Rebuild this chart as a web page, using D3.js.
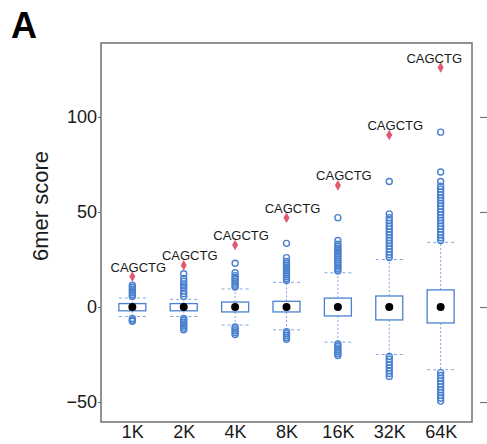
<!DOCTYPE html>
<html>
<head>
<meta charset="utf-8">
<script src="https://cdn.jsdelivr.net/npm/d3@7"></script>
<style>
  body { margin: 0; background: #fff; }
  svg { display: block; font-family: "Liberation Sans", Arial, sans-serif; }
</style>
</head>
<body>
<div id="chart"></div>
<script>
// window sizes
var categories = ["1K", "2K", "4K", "8K", "16K", "32K", "64K"];
var medians = [0, 0, 0, 0, 0, 0, 0];
var lowerQuartile = [-2, -2, -2.6, -2.6, -4.7, -6.8, -8.4];
var upperQuartile = [1.8, 1.8, 2.6, 3, 4.7, 5.8, 9];
var lowerWhisker = [-5, -5, -9.5, -12, -18.5, -25, -33];
var upperWhisker = [4.7, 4, 9.5, 13, 18, 25, 34];

// outlying 6mers per window
var outliers = [
    [5.5, 6.5, 7.5, 8.5, 9.5, 10.5, 11.5, -6, -7, -7.5],
    [5.5, 7, 8.5, 10, 11, 12, 13.5, 15, 17.5, -6, -7, -8, -9, -10, -11, -12],
    [10.5, 11.5, 12.5, 13.5, 14.5, 15.5, 16.5, 18, 23, -10.5, -11.5, -12.5, -13.5, -14.5],
    [14, 15, 16, 17, 18, 19, 20, 21, 22, 23, 24, 26, 33.5, -13, -14, -15, -16, -17],
    [19, 20, 21, 22, 23, 24, 25, 26, 27, 28, 29, 30, 31, 32, 33, 35, 47,
        -19.5, -20.5, -21.5, -22.5, -23.5, -24.5, -25.5],
    [26, 27.5, 29, 30.5, 32, 33.5, 35, 36.5, 38, 39.5, 41, 42.5, 44, 45.5, 47, 49, 66,
        -26, -27.5, -29, -30.5, -32, -33.5, -35, -36.5],
    [35, 36.5, 38, 39.5, 41, 42.5, 44, 45.5, 47, 48.5, 50, 51.5, 53, 54.5, 56, 57.5, 59,
        60.5, 62, 63.5, 66, 71, 92,
        -34.5, -36, -37.5, -39, -40.5, -42, -43.5, -45, -46.5, -48, -49.5]
];

// best scoring 6mer in each window
var topScores = [16, 22, 32.6, 47, 64, 90.5, 126];
var topKmers = ["CAGCTG", "CAGCTG", "CAGCTG", "CAGCTG", "CAGCTG", "CAGCTG", "CAGCTG"];

var yTicks = [-50, 0, 50, 100];

var W = 487, H = 444;
// plot frame (note: "top" is taken by window.top)
var frame = { left: 101, right: 472, top: 43, bottom: 422 };

var x = d3.scalePoint()
    .domain(categories)
    .range([frame.left, frame.right])
    .padding(0.61);

var y = d3.scaleLinear()
    .domain([-60.5, 138.9])
    .range([frame.bottom, frame.top]);

var svg = d3.select("#chart").append("svg")
    .attr("width", W)
    .attr("height", H);

var blue = "#4a80d0";
var lightBlue = "#7fa8e2";

// panel letter
svg.append("text")
    .attr("x", 11)
    .attr("y", 38)
    .style("font-size", "36px")
    .style("font-weight", "bold")
    .text("A");

// y axis label
svg.append("text")
    .attr("transform", "translate(48,206) rotate(-90)")
    .attr("text-anchor", "middle")
    .style("font-size", "22px")
    .attr("fill", "#1a1a1a")
    .text("6mer score");

// left axis
var yAxis = svg.append("g")
    .attr("transform", "translate(" + frame.left + ",0)")
    .call(d3.axisLeft(y).tickValues(yTicks).tickSize(3).tickPadding(1));
yAxis.select(".domain").remove();
yAxis.selectAll("line").attr("stroke", "#666");
yAxis.selectAll("text").style("font-size", "18px").attr("fill", "#1a1a1a").attr("font-family", null);

// right axis: ticks only
var rAxis = svg.append("g")
    .attr("transform", "translate(480,0)")
    .call(d3.axisRight(y).tickValues(yTicks).tickSize(7).tickFormat(""));
rAxis.select(".domain").remove();
rAxis.selectAll("line").attr("stroke", "#777").attr("stroke-width", 1.2);

// bottom labels
var xAxis = svg.append("g")
    .attr("transform", "translate(0," + frame.bottom + ")")
    .call(d3.axisBottom(x).tickSize(0).tickPadding(3));
xAxis.select(".domain").remove();
xAxis.selectAll("text").style("font-size", "18px").attr("fill", "#1a1a1a").attr("font-family", null);

// frame
svg.append("rect")
    .attr("x", frame.left)
    .attr("y", frame.top)
    .attr("width", frame.right - frame.left)
    .attr("height", frame.bottom - frame.top)
    .attr("fill", "none")
    .attr("stroke", "#707070")
    .attr("stroke-width", 1.5);

var boxW = 27;

var groups = svg.selectAll(".box")
    .data(categories)
    .enter().append("g")
    .attr("class", "box")
    .attr("transform", function (d) { return "translate(" + x(d) + ",0)"; });

// whiskers
groups.append("line")
    .attr("y1", function (d, i) { return y(upperQuartile[i]); })
    .attr("y2", function (d, i) { return y(upperWhisker[i]); })
    .attr("stroke", lightBlue).attr("stroke-dasharray", "2,2");
groups.append("line")
    .attr("y1", function (d, i) { return y(lowerQuartile[i]); })
    .attr("y2", function (d, i) { return y(lowerWhisker[i]); })
    .attr("stroke", lightBlue).attr("stroke-dasharray", "2,2");

// whisker caps
[upperWhisker, lowerWhisker].forEach(function (arr) {
    groups.append("line")
        .attr("x1", -boxW / 2).attr("x2", boxW / 2)
        .attr("y1", function (d, i) { return y(arr[i]); })
        .attr("y2", function (d, i) { return y(arr[i]); })
        .attr("stroke", lightBlue).attr("stroke-dasharray", "3,3");
});

// outliers
groups.selectAll("circle.out")
    .data(function (d, i) { return outliers[i]; })
    .enter().append("circle")
    .attr("class", "out")
    .attr("cy", function (v) { return y(v); })
    .attr("r", 3)
    .attr("fill", "none")
    .attr("stroke", blue)
    .attr("stroke-width", 1.4);

// boxes
groups.append("rect")
    .attr("x", -boxW / 2)
    .attr("width", boxW)
    .attr("y", function (d, i) { return y(upperQuartile[i]); })
    .attr("height", function (d, i) { return y(lowerQuartile[i]) - y(upperQuartile[i]); })
    .attr("fill", "#fff")
    .attr("stroke", blue)
    .attr("stroke-width", 1.3);

// medians
groups.append("circle")
    .attr("cy", function (d, i) { return y(medians[i]); })
    .attr("r", 4)
    .attr("fill", "#000");

// top 6mer
groups.append("path")
    .attr("d", d3.symbol().type(d3.symbolDiamond).size(32))
    .attr("transform", function (d, i) { return "translate(0," + y(topScores[i]) + ")"; })
    .attr("fill", "#e05a70");

groups.append("text")
    .attr("x", 6)
    .attr("y", function (d, i) { return y(topScores[i]) - 5; })
    .attr("text-anchor", "middle")
    .style("font-size", "13px")
    .attr("fill", "#1a1a1a")
    .text(function (d, i) { return topKmers[i]; })
    .each(function (d) {
        // keep labels inside the frame
        var w = this.getComputedTextLength();
        var over = x(d) + 6 + w / 2 - (frame.right - 10);
        if (over > 0) d3.select(this).attr("x", 6 - over);
    });
</script>
</body>
</html>
